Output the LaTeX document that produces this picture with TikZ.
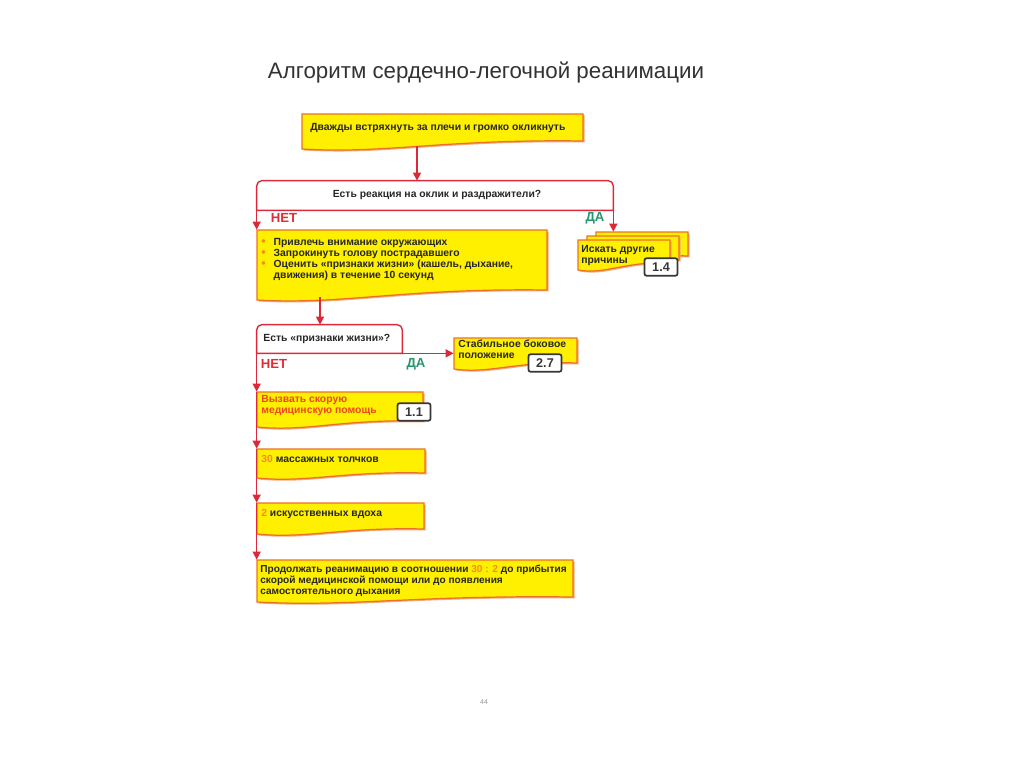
\documentclass[tikz,border=0pt]{standalone}
\usepackage{fontspec}
\setmainfont{Liberation Sans}
\usetikzlibrary{fit,arrows.meta,calc}

\definecolor{docyel}{RGB}{255,240,0}
\definecolor{docbrd}{RGB}{236,112,40}
\definecolor{arrred}{RGB}{221,40,58}
\definecolor{netred}{RGB}{225,45,55}
\definecolor{dagreen}{RGB}{40,150,110}
\definecolor{numor}{RGB}{247,140,30}
\definecolor{txtred}{RGB}{238,70,30}
\definecolor{lblgray}{RGB}{55,55,55}
\definecolor{titlegray}{RGB}{50,50,50}

\tikzset{
  docbox/.style={fill=docyel, draw=docbrd, line width=0.7pt},
  docshadow/.style={fill=docbrd!60},
  frame/.style={inner sep=0pt, draw=none},
  txt/.style={inner sep=0pt, anchor=north west, align=left, font=\fontsize{5.9}{6.2}\selectfont\bfseries, text=black!85},
  arr/.style={draw=arrred, line width=0.8pt, -{Triangle[length=4.5pt,width=4.5pt]}},
  dline/.style={draw=arrred, line width=0.8pt},
  lbl/.style={draw=lblgray, line width=1pt, fill=white, rounded corners=1.2pt, minimum width=0.66cm, minimum height=0.35cm, inner sep=0pt, font=\fontsize{7.2}{8}\selectfont\bfseries, text=lblgray},
  ans/.style={inner sep=0pt, font=\fontsize{7.5}{8}\selectfont\bfseries},
  title/.style={inner sep=0pt, font=\fontsize{12.7}{14}\selectfont, text=titlegray}
}

% name, x1, y1, x2, yRight, yLeft
\newcommand\docbox[6]{%
  \fill[docshadow, shift={(1.5,1.5)}] (#2,#3) -- (#4,#3) -- (#4,#5) .. controls ({#4-0.5*(#4-#2)},{#5-2}) and ({#2+0.3*(#4-#2)},{#6+5}) .. (#2,#6) -- cycle;
  \filldraw[docbox] (#2,#3) -- (#4,#3) -- (#4,#5) .. controls ({#4-0.5*(#4-#2)},{#5-2}) and ({#2+0.3*(#4-#2)},{#6+5}) .. (#2,#6) -- cycle;
  \node[frame, fit={(#2,#3) (#4,#5)}] (#1) {};
}
\newcommand\bul{\makebox[7pt][l]{\textcolor{numor}{\fontsize{7}{6}\selectfont\textbullet}}}

\begin{document}
\begin{tikzpicture}[x=0.02cm, y=-0.02cm]
\useasboundingbox (0,0) rectangle (1024,767);

\node[title] (title) at (486,73) {Алгоритм сердечно-легочной реанимации};

% box 1
\docbox{b1}{302}{114}{583}{141}{149}
\node[txt] (t1) at (310,123) {Дважды встряхнуть за плечи и громко окликнуть};
\coordinate (b1out) at (417,146);

% decision 1
\node[frame, fit={(257,181) (613,210)}] (d1) {};
\draw[dline] (d1.south west) [rounded corners=3pt] -- (d1.north west) -- (d1.north east) [sharp corners] -- (d1.south east) -- cycle;
\node[txt, anchor=center] (d1t) at (437,195) {Есть реакция на оклик и раздражители?};
\node[ans, text=netred] (net1) at (284,218) {НЕТ};
\node[ans, text=dagreen] (da1) at (595,218) {ДА};

% box 2
\docbox{b2}{257}{230}{547}{290}{300}
\node[txt] (t2) at (261,237.5) {%
\begin{tabular}{@{}l@{}l@{}}
\bul & Привлечь внимание окружающих\\
\bul & Запрокинуть голову пострадавшего\\
\bul & Оценить «признаки жизни» (кашель, дыхание,\\
     & движения) в течение 10 секунд
\end{tabular}};
\coordinate (b2out) at (320,297);

% multi-document
\docbox{m3}{596}{232}{688}{256}{262}
\docbox{m2}{587}{236}{679}{260}{266}
\docbox{m1}{578}{240}{670}{263}{270}
\node[txt] (mt) at (581,245.5) {Искать другие\\причины};
\node[lbl] (l14) at (661,267) {1.4};

% decision 2
\node[frame, fit={(257,325) (402,353)}] (d2) {};
\draw[dline] (d2.south west) [rounded corners=3pt] -- (d2.north west) -- (d2.north east) [sharp corners] -- (d2.south east) -- cycle;
\node[txt] (d2t) at (263,334) {Есть «признаки жизни»?};
\node[ans, text=netred] (net2) at (274,364) {НЕТ};
\node[ans, text=dagreen] (da2) at (416,364) {ДА};

% stable side position
\docbox{st}{454}{338}{577}{363}{369}
\node[txt] (stt) at (458,339.5) {Стабильное боковое\\положение};
\node[lbl] (l27) at (545,363) {2.7};

% call ambulance
\docbox{b3}{257}{392}{423}{421}{427}
\node[txt, text=txtred] (t3) at (261,395.5) {Вызвать скорую\\медицинскую помощь};
\node[lbl] (l11) at (414,412) {1.1};

% compressions
\docbox{b4}{257}{449}{425}{473}{478}
\node[txt] (t4) at (261,454.5) {\textcolor{numor}{30} массажных толчков};

% breaths
\docbox{b5}{257}{503}{424}{529}{534}
\node[txt] (t5) at (261,508.5) {\textcolor{numor}{2} искусственных вдоха};

% continue
\docbox{b6}{257}{560}{573}{597}{602}
\node[txt, font=\fontsize{5.75}{6.2}\selectfont\bfseries] (t6) at (260,564.5) {Продолжать реанимацию в соотношении \textcolor{numor}{30 : 2} до прибытия\\скорой медицинской помощи или до появления\\самостоятельного дыхания};

% connectors
\draw[arr] (b1out) -- (b1out |- d1.north);
\draw[arr] (d1.south west) -- (b2.north west);
\draw[arr] (d1.south east) -- (d1.south east |- m3.north);
\draw[arr] (b2out) -- (b2out |- d2.north);
\draw[arr] (d2.south east) -- (d2.south east -| st.west);
\draw[arr] (d2.south west) -- (b3.north west);
\draw[arr] (b3.north west) -- (b4.north west);
\draw[arr] (b4.north west) -- (b5.north west);
\draw[arr] (b5.north west) -- (b6.north west);

\node[inner sep=0pt, font=\fontsize{4}{5}\selectfont, text=black!40] (page) at (484,702) {44};
\end{tikzpicture}
\end{document}
